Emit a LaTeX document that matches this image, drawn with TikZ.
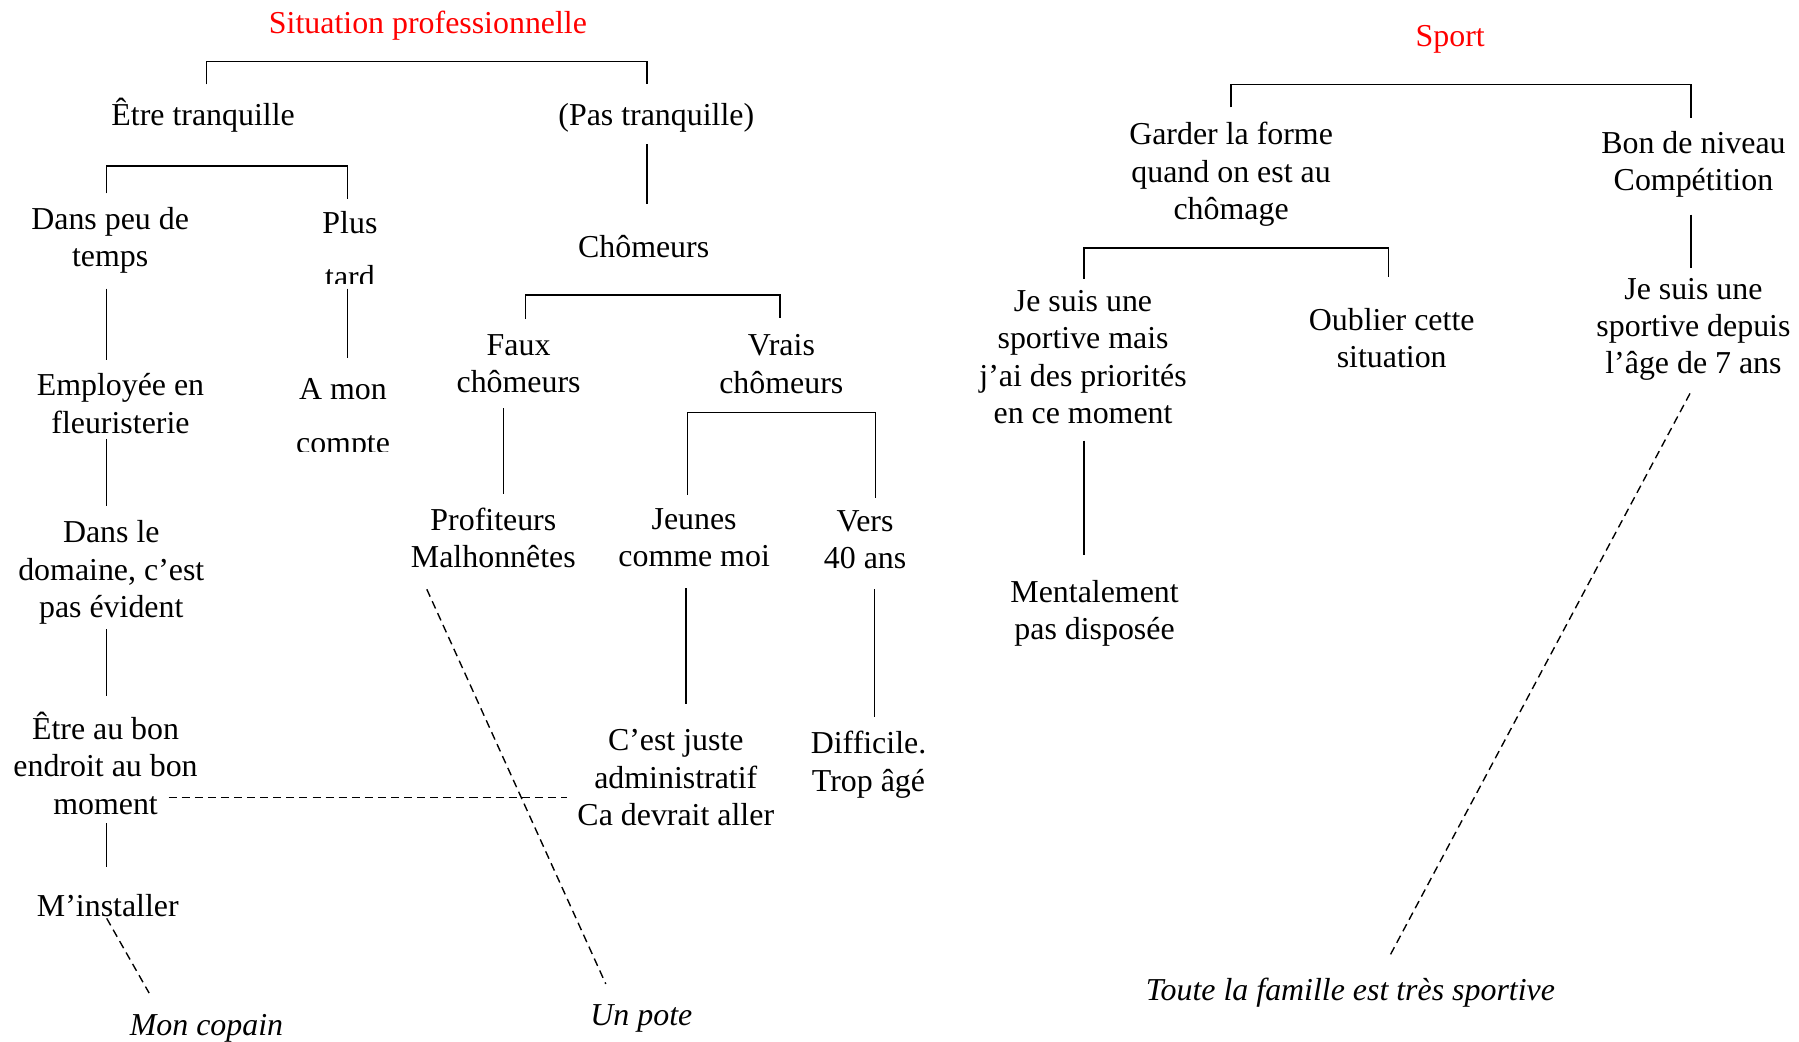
\documentclass[tikz,border=0pt]{standalone}
\usepackage{fontspec}
\setmainfont{Liberation Serif}
\definecolor{ink}{HTML}{000000}
\definecolor{hot}{HTML}{FF0000}
\tikzset{
  txt/.style={align=center,inner sep=0pt,text=ink,font=\fontsize{13.9}{16.25}\selectfont,
    execute at begin node={\rule{0pt}{\dimexpr.7\baselineskip+2pt\relax}},
    execute at end node={\rule[\dimexpr-.3\baselineskip+2pt\relax]{0pt}{\dimexpr.3\baselineskip-2pt\relax}}},
  wide/.style={txt,font=\fontsize{13.9}{23.5}\selectfont},
  ttl/.style={txt,text=hot},
  itl/.style={txt,font=\fontsize{13.9}{16.25}\selectfont\itshape},
  ln/.style={draw=ink,line width=.65pt},
  dsh/.style={draw=ink,line width=.6pt,dash pattern=on 3.5pt off 2.2pt},
}

\begin{document}
\begin{tikzpicture}[x=0.5pt,y=-0.5pt]
  \useasboundingbox (0,0) rectangle (1568,908);

  % ── situation professionnelle ──
  \node[ttl] (sit) at (373,19) {Situation professionnelle};
  \node[txt] (etre) at (177,99) {Être tranquille};
  \node[txt] (pas) at (572,99) {(Pas tranquille)};
  \node[txt] (peu) at (96,209.5) {Dans peu de\\temps};
  % the two boxes cut off at the bottom
  \begin{scope}
    \clip (240,150) rectangle (370,247);
    \node[wide] (plus) at (305,222.5) {Plus\\tard};
  \end{scope}
  \node[txt] (fleur) at (105,354.5) {Employée en\\fleuristerie};
  \begin{scope}
    \clip (230,300) rectangle (370,393.5);
    \node[wide] (compte) at (299,367.5) {A mon\\compte};
  \end{scope}
  \node[txt] (dom) at (97,499) {Dans le\\domaine, c’est\\pas évident};
  \node[txt] (endroit) at (92,668) {Être au bon\\endroit au bon\\moment};
  \node[txt] (inst) at (94,788) {M’installer};
  \node[itl] (copain) at (180,892) {Mon copain};

  \node[txt] (chom) at (561,214) {Chômeurs};
  \node[txt] (faux) at (452,319.5) {Faux\\chômeurs};
  \node[txt] (vrais) at (681,320) {Vrais\\chômeurs};
  \node[txt] (prof) at (430,471.5) {Profiteurs\\Malhonnêtes};
  \node[txt] (jeunes) at (605,471.5) {Jeunes\\comme moi};
  \node[txt] (vers) at (754,473) {Vers\\40 ans};
  \node[txt] (admin) at (589,680.5) {C’est juste\\administratif\\Ca devrait aller};
  \node[txt] (diff) at (757,666.5) {Difficile.\\Trop âgé};
  \node[itl] (pote) at (559,883) {Un pote};

  \draw[ln] ([shift={(3,-8.7)}]etre.north) -- ++(0,-20) -| ([shift={(-8,-8.7)}]pas.north);
  \draw[ln] ([shift={(-3,-11.7)}]peu.north) -- ++(0,-24) -| ([shift={(-2,-10.5)}]plus.north);
  \draw[ln] ([shift={(-8,9.8)}]pas.south) -- ([shift={(-8,-19.7)}]pas.south |- chom.north);
  \draw[ln] ([shift={(-3,12.8)}]peu.south) -- ([shift={(-3,-11.7)}]peu.south |- fleur.north);
  \draw[ln] ([shift={(-2,-9.5)}]plus.south) -- ([shift={(-2,-17.5)}]plus.south |- compte.north);
  \draw[ln] ([shift={(-12,-1.2)}]fleur.south) -- ([shift={(-12,-12.7)}]fleur.south |- dom.north);
  \draw[ln] ([shift={(-4,3.8)}]dom.south) -- ([shift={(-4,-13.7)}]dom.south |- endroit.north);
  \draw[ln] ([shift={(1,1.8)}]endroit.south) -- ([shift={(1,-15.7)}]endroit.south |- inst.north);
  \draw[dsh] ([shift={(-1,-4.2)}]inst.south) -- ([shift={(-50,-9.7)}]copain.north);
  \draw[dsh] ([shift={(55,27)}]endroit.center) -- ([shift={(-95,14.5)}]admin.center);

  \draw[ln] ([shift={(6,-12.7)}]faux.north) -- ++(0,-21) -| ([shift={(-1,-13.7)}]vrais.north);
  \draw[ln] ([shift={(-13,7.8)}]faux.south) -- ([shift={(-13,-11.7)}]faux.south |- prof.north);
  \draw[ln] ([shift={(-6,-11.7)}]jeunes.north) |- ([shift={(9,11)}]vers.north |- vrais.south) -- ([shift={(9,-10.7)}]vers.north);
  \draw[ln] ([shift={(-7,12.8)}]jeunes.south) -- ([shift={(-7,-21.7)}]jeunes.south |- admin.north);
  \draw[ln] ([shift={(8,11.8)}]vers.south) -- ([shift={(8,-11.7)}]vers.south |- diff.north);
  \draw[dsh] ([shift={(-58,12.8)}]prof.south) -- ([shift={(-31,-8.7)}]pote.north);

  % ── sport ──
  \node[ttl] (sport) at (1264,30) {Sport};
  \node[txt] (forme) at (1073,152) {Garder la forme\\quand on est au\\chômage};
  \node[txt] (niveau) at (1476,143) {Bon de niveau\\Compétition};
  \node[txt] (prio) at (944,314) {Je suis une\\sportive mais\\j’ai des priorités\\en ce moment};
  \node[txt] (oubli) at (1213,297.5) {Oublier cette\\situation};
  \node[txt] (sept) at (1476,287) {Je suis une\\sportive depuis\\l’âge de 7 ans};
  \node[txt] (ment) at (954,534.5) {Mentalement\\pas disposée};
  \node[itl] (famille) at (1177,862) {Toute la famille est très sportive};

  \draw[ln] ([shift={(0,-12.7)}]forme.north) -- ++(0,-20) -| ([shift={(-2,-10.7)}]niveau.north);
  \draw[ln] ([shift={(1,-9.7)}]prio.north) -- ++(0,-27) -| ([shift={(-3,-26.7)}]oubli.north);
  \draw[ln] ([shift={(-2,14.8)}]niveau.south) -- ([shift={(-2,-8.7)}]niveau.south |- sept.north);
  \draw[ln] ([shift={(1,8.8)}]prio.south) -- ([shift={(1,-21.7)}]prio.south |- ment.north);
  \draw[dsh] ([shift={(-3,10.8)}]sept.south) -- ([shift={(33,-9.7)}]famille.north);
\end{tikzpicture}
\end{document}
